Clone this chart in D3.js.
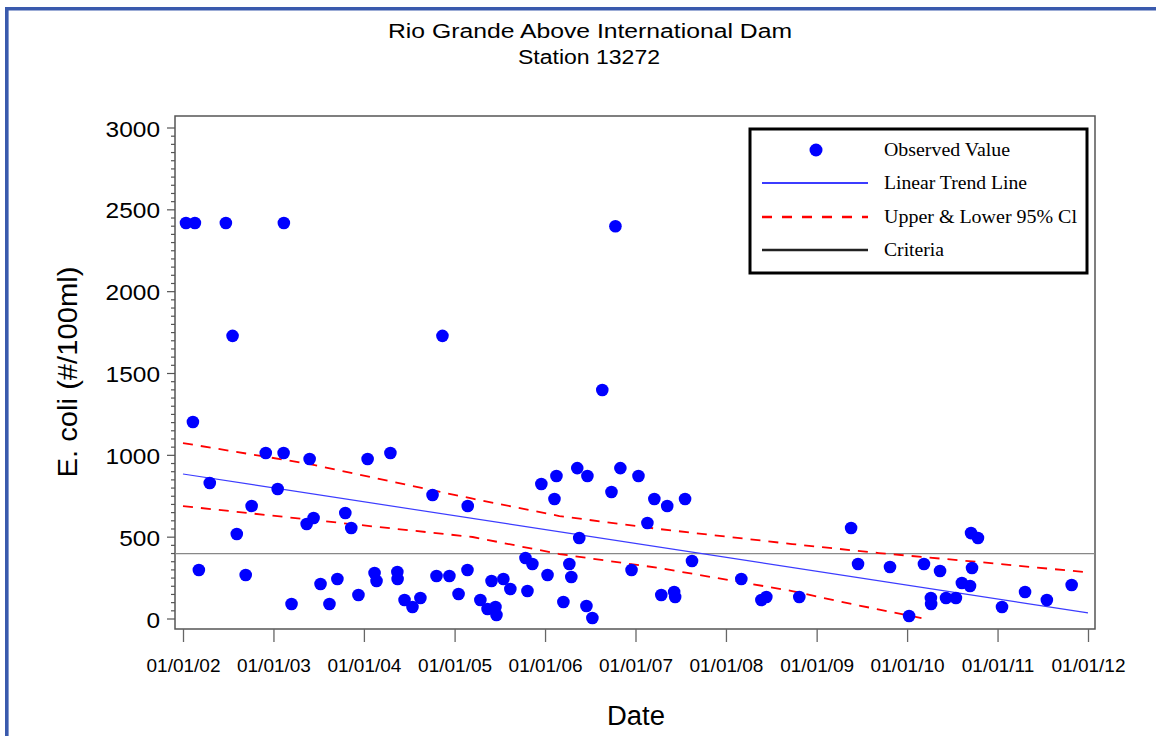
<!DOCTYPE html>
<html>
<head>
<meta charset="utf-8">
<script src="https://cdn.jsdelivr.net/npm/d3@7"></script>
<style>
  body { margin: 0; background: #fff; }
  svg { display: block; }
</style>
</head>
<body>
<svg id="chart" width="1156" height="736"></svg>
<script>
// observed E. coli samples (#/100ml)
const obsDates = [
  "2002-01-13","2002-02-18","2002-02-10","2002-03-06","2002-04-19","2002-06-23","2002-07-20","2002-08-06",
  "2002-09-11","2002-10-05","2002-12-01","2003-01-18","2003-02-11","2003-02-12","2003-03-15","2003-05-15",
  "2003-05-27","2003-06-12","2003-07-10","2003-08-15","2003-09-16","2003-10-18","2003-11-11","2003-12-10",
  "2004-01-16","2004-02-13","2004-02-21","2004-04-17","2004-05-15","2004-05-16","2004-06-13","2004-07-15",
  "2004-08-16","2004-10-04","2004-10-20","2004-11-13","2004-12-11","2005-01-17","2005-02-22","2005-02-23",
  "2005-04-15","2005-05-14","2005-06-15","2005-06-19","2005-05-30","2005-07-17","2005-08-14","2005-10-14",
  "2005-11-11","2005-10-22","2005-12-17","2006-02-16","2006-02-08","2006-01-11","2006-03-16","2006-04-09",
  "2006-04-17","2006-05-11","2006-06-21","2006-05-19","2006-06-17","2006-07-11","2006-08-20","2006-09-26",
  "2006-10-12","2006-11-01","2006-12-16","2007-01-13","2007-02-18","2007-03-18","2007-04-15","2007-05-09",
  "2007-06-06","2007-06-10","2007-07-20","2007-08-17","2008-03-03","2008-05-23","2008-06-12","2008-10-23",
  "2009-05-20","2009-06-17","2009-10-24","2010-01-09","2010-03-10","2010-04-07","2010-04-08","2010-05-14",
  "2010-06-07","2010-07-17","2010-08-10","2010-09-12","2010-09-16","2010-10-14","2010-09-20","2011-01-19",
  "2011-04-22","2011-07-19","2011-10-27"
];
const obsValues = [
  2420, 2420, 1204, 299, 831, 2420, 1730, 519,
  269, 690, 1014, 794, 1014, 2420, 92, 580,
  978, 617, 214, 92, 244, 648, 556, 147,
  978, 281, 232, 1014, 287, 244, 116, 73,
  128, 758, 263, 1730, 263, 153, 299, 690,
  116, 61, 73, 24, 232, 244, 183, 373,
  336, 171, 825, 874, 733, 269, 104, 336,
  257, 922, 874, 495, 79, 6, 1399, 776,
  2400, 922, 299, 874, 587, 733, 147, 690,
  165, 134, 733, 354, 244, 116, 134, 134,
  556, 336, 318, 18, 336, 128, 92, 293,
  128, 128, 220, 202, 525, 495, 312, 73,
  165, 116, 208
];

const trendDates = ["2002-01-01", "2012-01-01"];
const trendValues = [886, 37];

const upperDates = ["2002-01-01","2003-05-15","2005-03-15","2006-02-28","2007-04-05","2008-09-24","2009-09-09","2010-10-19","2011-12-16"];
const upperValues = [1075, 950, 735, 629, 550, 458, 403, 348, 287];

const lowerDates = ["2002-01-01","2003-05-15","2005-03-15","2006-02-28","2007-04-05","2008-09-24","2009-05-01","2010-02-28"];
const lowerValues = [690, 609, 501, 397, 312, 171, 98, 6];

const criteria = 400;

const xTicks = ["2002-01-01","2003-01-01","2004-01-01","2005-01-01","2006-01-01","2007-01-01",
                "2008-01-01","2009-01-01","2010-01-01","2011-01-01","2012-01-01"];
const yTicks = [0, 500, 1000, 1500, 2000, 2500, 3000];

const legendItems = ["Observed Value", "Linear Trend Line", "Upper & Lower 95% Cl", "Criteria"];

const parse = d3.timeParse("%Y-%m-%d");
const svg = d3.select("#chart");
const sans = "'Liberation Sans', Arial, sans-serif";
const serif = "'Liberation Serif', 'Times New Roman', serif";

// frame
const frame = { left: 175, right: 1095, top: 116, bottom: 629 };

const x = d3.scaleTime()
  .domain([parse(xTicks[0]), parse(xTicks[xTicks.length - 1])])
  .range([183, 1088]);
const y = d3.scaleLinear().domain([0, 3000]).range([619, 128]);

// blue slide border
svg.append("path")
  .attr("d", "M6.8,740 V8.8 H1160")
  .attr("fill", "none")
  .attr("stroke", "#3a5aad")
  .attr("stroke-width", 3.6);

// titles
svg.append("text").attr("x", 590).attr("y", 38)
  .attr("text-anchor", "middle").attr("font-family", sans).attr("font-size", 20)
  .attr("textLength", 404).attr("lengthAdjust", "spacingAndGlyphs")
  .text("Rio Grande Above International Dam");
svg.append("text").attr("x", 589).attr("y", 64)
  .attr("text-anchor", "middle").attr("font-family", sans).attr("font-size", 20)
  .attr("textLength", 142).attr("lengthAdjust", "spacingAndGlyphs")
  .text("Station 13272");

// plot box
svg.append("rect")
  .attr("x", frame.left).attr("y", frame.top)
  .attr("width", frame.right - frame.left).attr("height", frame.bottom - frame.top)
  .attr("fill", "none").attr("stroke", "#555").attr("stroke-width", 1.5);

// y axis with minor ticks every 50
const yMinor = d3.range(0, 3001, 50);
svg.append("g").selectAll("line").data(yMinor).enter().append("line")
  .attr("x1", d => d % 500 === 0 ? frame.left - 8 : frame.left - 4)
  .attr("x2", frame.left)
  .attr("y1", d => y(d)).attr("y2", d => y(d))
  .attr("stroke", "#555").attr("stroke-width", 1.2);

svg.append("g").selectAll("text").data(yTicks).enter().append("text")
  .attr("x", 160).attr("y", d => y(d) + 8.5)
  .attr("text-anchor", "end").attr("font-family", sans).attr("font-size", 22)
  .attr("textLength", d => String(d).length * 13.6).attr("lengthAdjust", "spacingAndGlyphs")
  .text(d => d);

// x axis
const xAxis = d3.axisBottom(x)
  .tickValues(xTicks.map(parse))
  .tickFormat(d3.timeFormat("%m/%d/%y"))
  .tickSize(13).tickPadding(17);
const gx = svg.append("g").attr("transform", `translate(0,${frame.bottom})`).call(xAxis);
gx.select(".domain").remove();
gx.selectAll(".tick line").attr("stroke", "#666").attr("stroke-width", 1.3);
gx.selectAll(".tick text").attr("font-family", sans).attr("font-size", 19).attr("fill", "#000");

// axis titles
svg.append("text").attr("transform", "translate(77,372) rotate(-90)")
  .attr("text-anchor", "middle").attr("font-family", sans).attr("font-size", 27)
  .attr("textLength", 211).attr("lengthAdjust", "spacingAndGlyphs")
  .text("E. coli (#/100ml)");
svg.append("text").attr("x", 636).attr("y", 725)
  .attr("text-anchor", "middle").attr("font-family", sans).attr("font-size", 27)
  .attr("textLength", 58).attr("lengthAdjust", "spacingAndGlyphs")
  .text("Date");

const plot = svg.append("g");

// criteria
plot.append("line")
  .attr("x1", frame.left).attr("x2", frame.right)
  .attr("y1", y(criteria)).attr("y2", y(criteria))
  .attr("stroke", "#888").attr("stroke-width", 1.2);

const line = d3.line().x(d => x(d[0])).y(d => y(d[1]));
const pairs = (ds, vs) => ds.map((d, i) => [parse(d), vs[i]]);

// confidence limits
[[upperDates, upperValues], [lowerDates, lowerValues]].forEach(([ds, vs]) => {
  plot.append("path")
    .attr("d", line(pairs(ds, vs)))
    .attr("fill", "none").attr("stroke", "#ff0000")
    .attr("stroke-width", 1.8).attr("stroke-dasharray", "10,8");
});

// trend
plot.append("path")
  .attr("d", line(pairs(trendDates, trendValues)))
  .attr("fill", "none").attr("stroke", "#3c3cff").attr("stroke-width", 1.2);

// observations
plot.selectAll("circle").data(pairs(obsDates, obsValues)).enter().append("circle")
  .attr("cx", d => x(d[0])).attr("cy", d => y(d[1]))
  .attr("r", 6.3).attr("fill", "#0000ff");

// legend
const lg = svg.append("g");
lg.append("rect").attr("x", 750).attr("y", 129).attr("width", 337).attr("height", 144)
  .attr("fill", "#fff").attr("stroke", "#000").attr("stroke-width", 3);
const rowY = [150, 183, 217, 250];
const textLen = [126, 143, 193, 60];
lg.append("circle").attr("cx", 816).attr("cy", rowY[0]).attr("r", 6.5).attr("fill", "#0000ff");
lg.append("line").attr("x1", 762).attr("x2", 868).attr("y1", rowY[1]).attr("y2", rowY[1])
  .attr("stroke", "#3c3cff").attr("stroke-width", 2);
lg.append("line").attr("x1", 762).attr("x2", 868).attr("y1", rowY[2]).attr("y2", rowY[2])
  .attr("stroke", "#ff0000").attr("stroke-width", 2.5).attr("stroke-dasharray", "10,10");
lg.append("line").attr("x1", 762).attr("x2", 868).attr("y1", rowY[3]).attr("y2", rowY[3])
  .attr("stroke", "#222").attr("stroke-width", 2.5);
lg.selectAll("text").data(legendItems).enter().append("text")
  .attr("x", 884).attr("y", (d, i) => rowY[i] + 6)
  .attr("font-family", serif).attr("font-size", 19)
  .attr("textLength", (d, i) => textLen[i]).attr("lengthAdjust", "spacingAndGlyphs")
  .text(d => d);
</script>
</body>
</html>
